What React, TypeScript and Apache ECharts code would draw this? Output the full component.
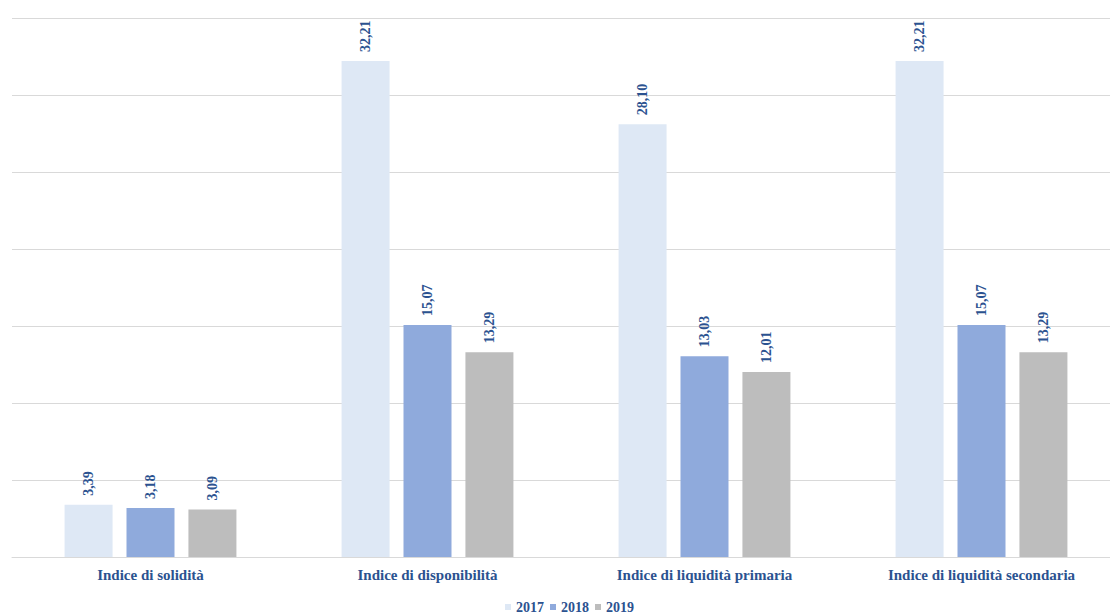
import React, { useEffect, useRef } from "react";
import * as echarts from "echarts";

const categories = [
  "Indice di solidità",
  "Indice di disponibilità",
  "Indice di liquidità primaria",
  "Indice di liquidità secondaria",
];
const years = ["2017", "2018", "2019"];
const values2017 = [3.39, 32.21, 28.1, 32.21];
const values2018 = [3.18, 15.07, 13.03, 15.07];
const values2019 = [3.09, 13.29, 12.01, 13.29];
const colors = ["#DEE8F5", "#8FAADC", "#BDBDBD"];

const textColor = "#2B5290";
const font = "'Liberation Serif', 'Times New Roman', serif";

export default function App() {
  const ref = useRef<HTMLDivElement>(null);
  useEffect(() => {
    if (!ref.current) return;
    const chart = echarts.init(ref.current, null, { renderer: "svg" });
    const seriesData = [values2017, values2018, values2019];
    chart.setOption({
      animation: false,
      grid: { left: 12, width: 1108, top: 18, height: 539, containLabel: false },
      legend: {
        data: years,
        top: 595,
        left: 500,
        itemWidth: 6,
        itemHeight: 6,
        itemGap: 6,
        icon: "rect",
        textStyle: { fontFamily: font, fontWeight: "bold", fontSize: 14, color: textColor },
      },
      xAxis: {
        type: "category",
        data: categories,
        axisLine: { lineStyle: { color: "#D9D9D9" } },
        axisTick: { show: false },
        axisLabel: {
          fontFamily: font,
          fontWeight: "bold",
          fontSize: 15,
          color: textColor,
          margin: 10,
        },
      },
      yAxis: {
        type: "value",
        min: 0,
        max: 35,
        interval: 5,
        axisLabel: { show: false },
        axisLine: { show: false },
        axisTick: { show: false },
        splitLine: { lineStyle: { color: "#D9D9D9" } },
      },
      series: years.map((y, i) => ({
        name: y,
        type: "bar",
        data: seriesData[i],
        barWidth: 48,
        barGap: "29%",
        itemStyle: { color: colors[i] },
        label: {
          show: true,
          position: "top",
          rotate: 90,
          align: "left",
          verticalAlign: "middle",
          distance: 9,
          fontFamily: font,
          fontWeight: "bold",
          fontSize: 14,
          color: textColor,
          formatter: (p: any) => p.value.toFixed(2).replace(".", ","),
        },
      })),
    });
    return () => chart.dispose();
  }, []);
  return (
    <div style={{ position: "fixed", left: 0, top: 0, width: 1110, height: 615, overflow: "hidden", background: "#fff" }}>
      <div ref={ref} style={{ width: 1130, height: 615 }} />
    </div>
  );
}
